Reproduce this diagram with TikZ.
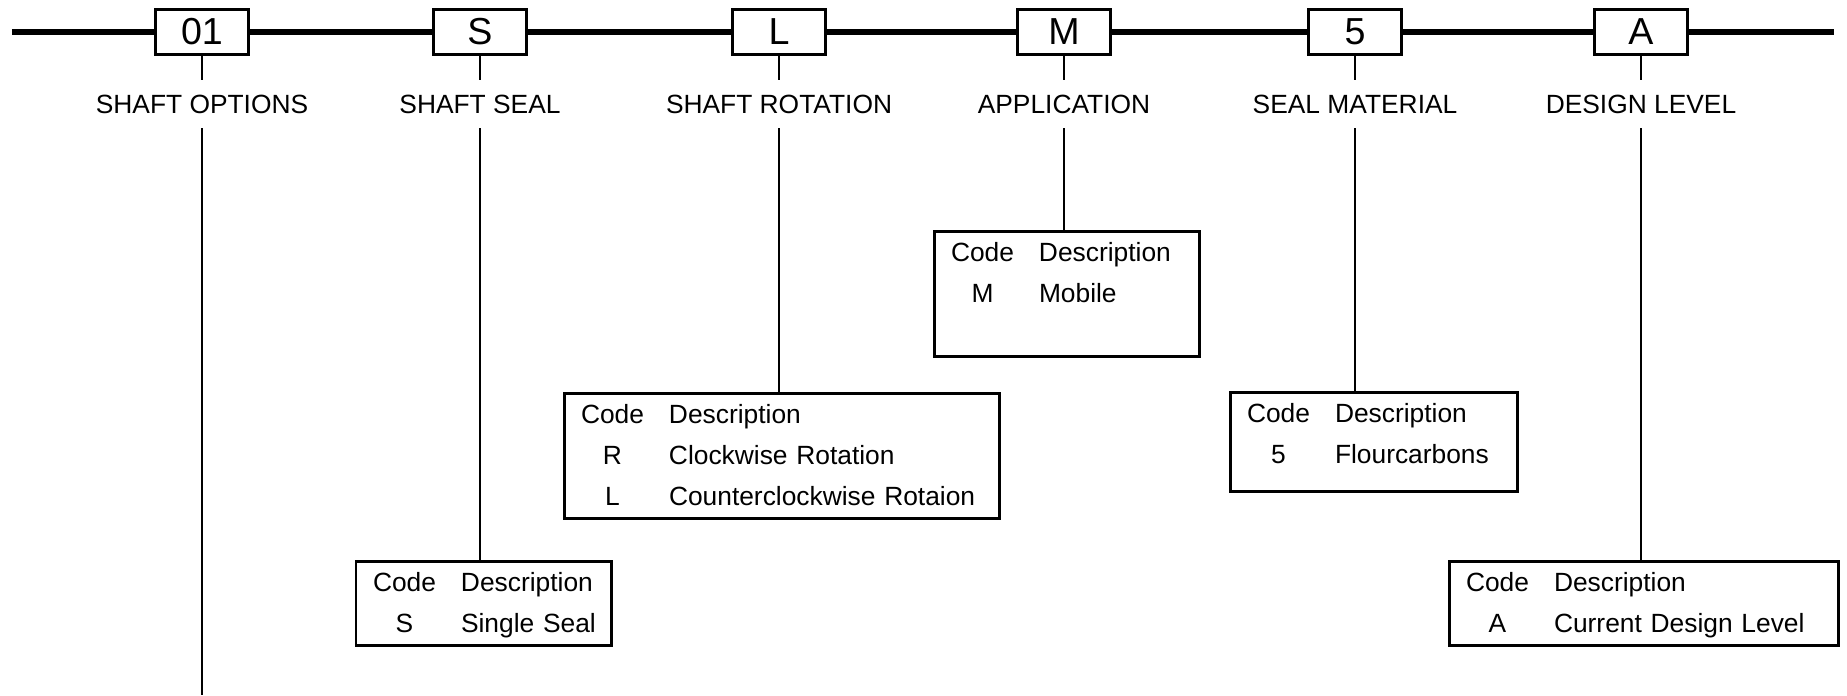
\documentclass[tikz,border=0pt]{standalone}
\usepackage{fontspec}
\setmainfont{Liberation Sans}
\usetikzlibrary{positioning}

\begin{document}
\begin{tikzpicture}[
    bus/.style={line width=1.6pt},
    lead/.style={line width=0.75pt},
    codebox/.style={draw, line width=0.85pt, fill=white, inner sep=0pt,
      minimum width=0.93cm, minimum height=0.45cm,
      font=\fontsize{10.7}{12}\selectfont},
    field/.style={inner sep=0pt, minimum height=0.47cm,
      font=\fontsize{7.5}{9}\selectfont},
    codetable/.style={draw, line width=0.85pt, anchor=north, align=left,
      inner xsep=0.17cm, inner ysep=0.012cm,
      font=\fontsize{7.5}{11.66}\selectfont}]
  \useasboundingbox (0,0) rectangle (18.47,-6.95);

  % model code digits
  \node[codebox] (opt)  at (2.02,-0.32)  {01};
  \node[codebox] (seal) at (4.80,-0.32)  {S};
  \node[codebox] (rot)  at (7.79,-0.32)  {L};
  \node[codebox] (app)  at (10.64,-0.32) {M};
  \node[codebox] (mat)  at (13.55,-0.32) {5};
  \node[codebox] (lvl)  at (16.41,-0.32) {A};

  \coordinate (busl) at (0.12,-0.32);
  \coordinate (busr) at (18.34,-0.32);
  \draw[bus] (busl) -- (opt.west)  (opt.east) -- (seal.west)
    (seal.east) -- (rot.west)  (rot.east) -- (app.west)
    (app.east) -- (mat.west)  (mat.east) -- (lvl.west)
    (lvl.east) -- (busr);

  % field names
  \node[field] (optlbl)  [below=0.24cm of opt]  {SHAFT OPTIONS};
  \node[field] (seallbl) [below=0.24cm of seal] {SHAFT SEAL};
  \node[field] (rotlbl)  [below=0.24cm of rot]  {SHAFT ROTATION};
  \node[field] (applbl)  [below=0.24cm of app]  {APPLICATION};
  \node[field] (matlbl)  [below=0.24cm of mat]  {SEAL MATERIAL};
  \node[field] (lvllbl)  [below=0.24cm of lvl]  {DESIGN LEVEL};

  % code tables
  \node[codetable, text width=2.21cm] (sealtab) at (4.835,-5.60) {%
    \begin{tabular}{@{}c@{\hspace{0.25cm}}l@{}}
      Code & Description\\
      S & Single Seal
    \end{tabular}};
  \node[codetable, text width=4.01cm] (rottab) at (7.815,-3.92) {%
    \begin{tabular}{@{}c@{\hspace{0.25cm}}l@{}}
      Code & Description\\
      R & Clockwise Rotation\\
      L & Counterclockwise Rotaion
    \end{tabular}};
  \node[codetable, text width=2.31cm] (apptab) at (10.665,-2.30) {%
    \begin{tabular}{@{}c@{\hspace{0.25cm}}l@{}}
      Code & Description\\
      M & Mobile\\[0.41cm]
    \end{tabular}};
  \node[codetable, text width=2.53cm] (mattab) at (13.735,-3.91) {%
    \begin{tabular}{@{}c@{\hspace{0.25cm}}l@{}}
      Code & Description\\
      5 & Flourcarbons\\[0.15cm]
    \end{tabular}};
  \node[codetable, text width=3.55cm] (lvltab) at (16.435,-5.60) {%
    \begin{tabular}{@{}c@{\hspace{0.25cm}}l@{}}
      Code & Description\\
      A & Current Design Level
    \end{tabular}};

  \coordinate (optend) at (2.02,-6.95);

  % leaders
  \draw[lead] (opt.south) -- (optlbl.north)  (optlbl.south) -- (optend);
  \draw[lead] (seal.south) -- (seallbl.north)
    (seallbl.south) -- (seallbl.south |- sealtab.north);
  \draw[lead] (rot.south) -- (rotlbl.north)
    (rotlbl.south) -- (rotlbl.south |- rottab.north);
  \draw[lead] (app.south) -- (applbl.north)
    (applbl.south) -- (applbl.south |- apptab.north);
  \draw[lead] (mat.south) -- (matlbl.north)
    (matlbl.south) -- (matlbl.south |- mattab.north);
  \draw[lead] (lvl.south) -- (lvllbl.north)
    (lvllbl.south) -- (lvllbl.south |- lvltab.north);
\end{tikzpicture}
\end{document}
